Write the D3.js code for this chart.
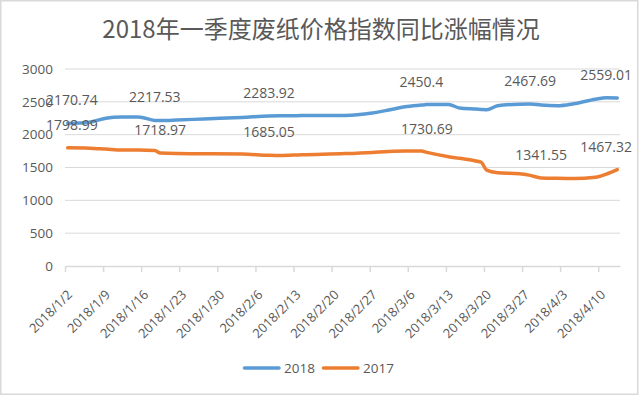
<!DOCTYPE html>
<html>
<head>
<meta charset="utf-8">
<script src="https://cdn.jsdelivr.net/npm/d3@7"></script>
<style>
  body { margin: 0; background: #fff; }
  svg text { font-family: "Open Sans", "Noto Sans", sans-serif; fill: #595959; }
</style>
</head>
<body>
<div class="line-chart"></div>
<script>
// data
const dates = ["2018/1/2","2018/1/6","2018/1/9","2018/1/12","2018/1/15","2018/1/18","2018/1/19","2018/1/22",
  "2018/1/27","2018/2/3","2018/2/8","2018/2/10","2018/2/14","2018/2/22","2018/2/27","2018/3/2","2018/3/5",
  "2018/3/8","2018/3/9","2018/3/13","2018/3/15","2018/3/18","2018/3/19","2018/3/20","2018/3/22","2018/3/26",
  "2018/3/28","2018/3/30","2018/4/2","2018/4/5","2018/4/9","2018/4/11","2018/4/13"]
const values2018 = [2170.74,2190,2250,2268,2270,2217.53,2215,2222,2240,2262,2283.92,2288,2290,2292,2330,2375,2425,
  2450.4,2458,2460,2405,2390,2385,2380,2440,2465,2467.69,2450,2440,2470,2540,2562,2559.01]
const values2017 = [1798.99,1795,1780,1765,1768,1760,1718.97,1712,1710,1705,1685.05,1682,1695,1712,1730,1745,1752,
  1750,1730.69,1665,1640,1600,1580,1460,1420,1405,1380,1341.55,1335,1332,1350,1400,1467.32]
const labels2018 = ["2018/1/2","2018/1/18","2018/2/8","2018/3/8","2018/3/28","2018/4/13"]
const labels2017 = ["2018/1/2","2018/1/19","2018/2/8","2018/3/9","2018/3/30","2018/4/13"]
const xTicks = ["2018/1/2","2018/1/9","2018/1/16","2018/1/23","2018/1/30","2018/2/6","2018/2/13","2018/2/20",
  "2018/2/27","2018/3/6","2018/3/13","2018/3/20","2018/3/27","2018/4/3","2018/4/10"]
const yTicks = [0,500,1000,1500,2000,2500,3000]
const seriesNames = ["2018","2017"]
const title = "2018年一季度废纸价格指数同比涨幅情况"

const width = 640
const height = 396
const margin = { top: 69, bottom: 130, left: 65, right: 20 }
const colors = ["#5B9BD5", "#ED7D31"]

const parse = d3.timeParse("%Y/%m/%d")

const svg = d3.select('.line-chart')
  .append('svg')
  .attr('width', width)
  .attr('height', height)

// frame
svg.append('rect')
  .attr('x', 0.75).attr('y', 0.75)
  .attr('width', width - 3).attr('height', height - 2.5)
  .attr('fill', '#fff')
  .attr('stroke', '#d9d9d9')
  .attr('stroke-width', 1.5)

svg.append('text')
  .text(title)
  .attr('x', width / 2 + 1)
  .attr('y', 38)
  .attr('text-anchor', 'middle')
  .style('font-family', '"Noto Sans CJK SC", sans-serif')
  .style('font-size', '24px')

// scales: each day is a slot, points sit in the middle of it
const xScale = d3.scaleTime()
  .domain([parse(xTicks[0]), d3.timeDay.offset(parse(dates[dates.length - 1]), 1)])
  .range([margin.left, width - margin.right])

const yScale = d3.scaleLinear()
  .domain([0, 3000])
  .range([height - margin.bottom, margin.top])

const xPos = d => xScale(d3.timeHour.offset(parse(d), 12))

// grid
svg.append('g')
  .selectAll('line')
  .data(yTicks.slice(1))
  .join('line')
  .attr('x1', margin.left)
  .attr('x2', width - margin.right)
  .attr('y1', d => yScale(d))
  .attr('y2', d => yScale(d))
  .attr('stroke', '#d9d9d9')
  .attr('stroke-width', 1)

// y axis
const yAxis = d3.axisLeft(yScale)
  .tickValues(yTicks)
  .tickFormat(d3.format("d"))
  .tickSize(0)
  .tickPadding(12)

const yG = svg.append('g')
  .attr('transform', `translate(${margin.left},0)`)
  .call(yAxis)
yG.select('.domain').remove()
yG.selectAll('text').style('font-size', '13.5px').style('fill', '#595959')

// x axis
const xAxis = d3.axisBottom(xScale)
  .tickValues(xTicks.map(parse))
  .tickFormat(d3.timeFormat("%Y/%-m/%-d"))
  .tickSize(6)
  .tickSizeOuter(0)

const xG = svg.append('g')
  .attr('transform', `translate(0,${height - margin.bottom})`)
  .call(xAxis)
xG.select('.domain').attr('stroke', '#d9d9d9').attr('stroke-width', 1.5)
xG.selectAll('.tick line').attr('stroke', '#d9d9d9').attr('stroke-width', 1.5)
xG.selectAll('text')
  .attr('text-anchor', 'end')
  .attr('dominant-baseline', 'central')
  .attr('y', 0)
  .attr('dy', 0)
  .attr('transform', 'translate(4,26) rotate(-45)')
  .style('font-size', '13px')
  .style('fill', '#595959')

// lines
const series = [values2018, values2017]
const line = d3.line()
  .x((d, i) => xPos(dates[i]))
  .y(d => yScale(d))
  .curve(d3.curveMonotoneX)

series.forEach((vals, k) => {
  svg.append('path')
    .datum(vals)
    .attr('fill', 'none')
    .attr('stroke', colors[k])
    .attr('stroke-width', 3.5)
    .attr('stroke-linejoin', 'round')
    .attr('stroke-linecap', 'round')
    .attr('d', line)
})

// data labels, kept inside the chart
const labelSets = [labels2018, labels2017]
labelSets.forEach((labs, k) => {
  labs.forEach(d => {
    const v = series[k][dates.indexOf(d)]
    const t = svg.append('text')
      .text(v)
      .attr('text-anchor', 'middle')
      .attr('dominant-baseline', 'central')
      .attr('y', yScale(v) - 23.5)
      .style('font-size', '14px')
    const w = t.node().getComputedTextLength()
    const cx = Math.min(Math.max(xPos(d), 46 + w / 2), width - 8 - w / 2)
    t.attr('x', cx)
  })
})

// legend
const legend = svg.append('g').attr('transform', `translate(243,368)`)
const legendX = [0, 79]
seriesNames.forEach((name, k) => {
  const g = legend.append('g').attr('transform', `translate(${legendX[k]},0)`)
  g.append('line')
    .attr('x1', 1.5).attr('x2', 36)
    .attr('stroke', colors[k])
    .attr('stroke-width', 3.5)
    .attr('stroke-linecap', 'round')
  g.append('text')
    .text(name)
    .attr('x', 41)
    .attr('dominant-baseline', 'central')
    .style('font-size', '13.5px')
})
</script>
</body>
</html>
